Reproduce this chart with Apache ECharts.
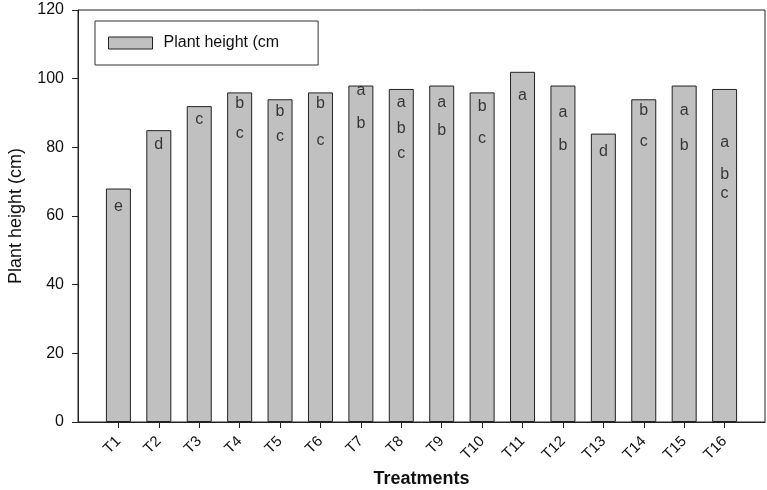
<!DOCTYPE html>
<html>
<head>
<meta charset="utf-8">
<script src="https://cdn.jsdelivr.net/npm/echarts@6/dist/echarts.min.js"></script>
<style>
  html, body { margin: 0; padding: 0; background: #fff; }
  #main { width: 767px; height: 490px; }
</style>
</head>
<body>
<div id="main"></div>
<script>
// treatments, with empty slots at both ends of the axis
const treatments = ['', 'T1', 'T2', 'T3', 'T4', 'T5', 'T6', 'T7', 'T8',
  'T9', 'T10', 'T11', 'T12', 'T13', 'T14', 'T15', 'T16', ''];
const plantHeight = [null, 68, 85, 92, 96, 94, 96, 98, 97, 98, 96, 102, 98, 84, 94, 98, 97, null];

// significance letters: [treatment, height where the letter sits, letter]
const letters = [
  ['T1', 62.6, 'e'],
  ['T2', 80.7, 'd'],
  ['T3', 88.0, 'c'],
  ['T4', 92.6, 'b'], ['T4', 83.9, 'c'],
  ['T5', 90.3, 'b'], ['T5', 83.0, 'c'],
  ['T6', 92.6, 'b'], ['T6', 82.1, 'c'],
  ['T7', 96.4, 'a'], ['T7', 86.8, 'b'],
  ['T8', 92.9, 'a'], ['T8', 85.6, 'b'], ['T8', 78.1, 'c'],
  ['T9', 92.9, 'a'], ['T9', 84.8, 'b'],
  ['T10', 91.8, 'b'], ['T10', 82.4, 'c'],
  ['T11', 95.2, 'a'],
  ['T12', 90.0, 'a'], ['T12', 80.4, 'b'],
  ['T13', 78.9, 'd'],
  ['T14', 90.6, 'b'], ['T14', 81.8, 'c'],
  ['T15', 90.6, 'a'], ['T15', 80.4, 'b'],
  ['T16', 81.3, 'a'], ['T16', 72.2, 'b'], ['T16', 66.4, 'c']
];

const yTicks = [0, 20, 40, 60, 80, 100, 120];

const font = '"Liberation Sans", Arial, Helvetica, sans-serif';
let myChart = echarts.init(document.getElementById('main'));

let options = {
  animation: false,
  textStyle: { fontFamily: font },
  grid: {
    left: 78, right: 2, top: 10, bottom: 68,
    outerBoundsMode: 'none',
    containLabel: false,
    show: true, borderColor: '#222', borderWidth: 1
  },
  legend: {
    left: 95, top: 21,
    padding: [14, 39, 14, 13],
    borderColor: '#333', borderWidth: 1,
    icon: 'rect',
    itemWidth: 44, itemHeight: 12, itemGap: 10,
    itemStyle: { borderWidth: 1, borderColor: '#222' },
    data: ['Plant height (cm'],
    textStyle: { fontFamily: font, fontSize: 16, color: '#111', padding: [0, 0, 0, 6] }
  },
  xAxis: {
    type: 'category',
    data: treatments,
    boundaryGap: false,
    name: 'Treatments',
    nameLocation: 'middle',
    nameGap: 48,
    nameTextStyle: { fontFamily: font, fontSize: 18, fontWeight: 'bold', color: '#111' },
    axisLine: { lineStyle: { color: '#222', width: 1 } },
    axisTick: {
      length: 6, lineStyle: { color: '#222' },
      interval: (i, v) => v !== ''
    },
    axisLabel: {
      interval: 0, rotate: 45, margin: 17,
      fontFamily: font, fontSize: 15, color: '#111'
    },
    splitLine: { show: false }
  },
  yAxis: {
    type: 'value',
    min: yTicks[0], max: yTicks[yTicks.length - 1], interval: 20,
    name: 'Plant height (cm)',
    nameLocation: 'middle',
    nameGap: 53,
    nameTextStyle: { fontFamily: font, fontSize: 18, color: '#111' },
    axisLine: { show: true, lineStyle: { color: '#222', width: 1 } },
    axisTick: { show: true, length: 6, lineStyle: { color: '#222' } },
    axisLabel: { margin: 14, fontFamily: font, fontSize: 16, color: '#111' },
    splitLine: { show: false }
  },
  series: [
    {
      name: 'Plant height (cm',
      type: 'bar',
      data: plantHeight,
      barWidth: 25,
      itemStyle: { color: '#c0c0c0', borderColor: '#222', borderWidth: 1 }
    },
    {
      name: 'letters',
      type: 'scatter',
      data: letters,
      symbolSize: 0,
      silent: true,
      label: {
        show: true, position: 'inside',
        formatter: p => p.value[2],
        fontFamily: font, fontSize: 16, color: '#111'
      }
    }
  ]
};
myChart.setOption(options, true);
</script>
</body>
</html>
